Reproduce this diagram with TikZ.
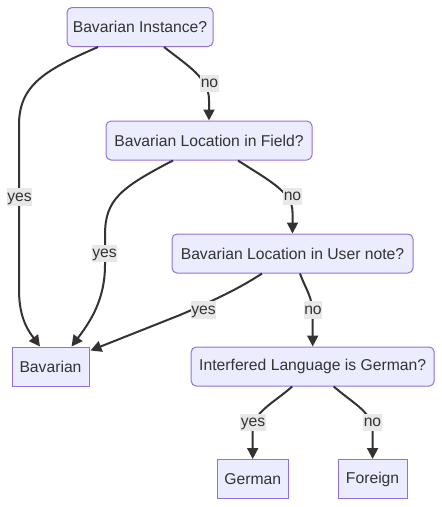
\documentclass[tikz,border=0pt]{standalone}
\usepackage{fontspec}
\setmainfont{Liberation Sans}
\usetikzlibrary{arrows.meta,calc}
\definecolor{nodefill}{HTML}{ECECFF}
\definecolor{nodeline}{HTML}{9370DB}
\definecolor{ink}{HTML}{333333}
\definecolor{lblfill}{HTML}{E8E8E8}
\begin{document}
\begin{tikzpicture}[x=1pt,y=-1pt,
  every node/.style={font=\fontsize{15.7}{19}\selectfont, text=ink},
  decision/.style={draw=nodeline, fill=nodefill, line width=1pt, rounded corners=5pt, minimum height=39pt, inner sep=0pt},
  leaf/.style={draw=nodeline, fill=nodefill, line width=1pt, minimum height=39pt, inner sep=0pt},
  edge/.style={draw=ink, line width=2pt, -{Triangle[length=11pt,width=11pt]}},
  lbl/.style={fill=lblfill, inner sep=0.6pt, text height=12pt, text depth=4pt}
]
\useasboundingbox (0,0) rectangle (442,507);

% nodes
\node[decision, minimum width=146pt] (A) at (140,27) {Bavarian Instance?};
\node[decision, minimum width=206pt] (B) at (209,140.5) {Bavarian Location in Field?};
\node[decision, minimum width=241pt] (C) at (292.5,253.5) {Bavarian Location in User note?};
\node[leaf, minimum width=77pt] (D) at (50.5,366.5) {Bavarian};
\node[decision, minimum width=243pt] (E) at (312.7,366.5) {Interfered Language is German?};
\node[leaf, minimum width=71pt] (F) at (252.7,479) {German};
\node[leaf, minimum width=69pt] (G) at (372.6,479) {Foreign};

% edges
\draw[edge] ($(A.south)+(-42,0)$) .. controls (45,70) and (19,85) .. (19,125) -- (19,290) .. controls (19,320) and (30,333) .. ($(D.north)+(-10.5,0)$);
\draw[edge] ($(A.south)+(24,0)$) .. controls (188,66) and (209,78) .. (209,100) -- (B.north);
\draw[edge] ($(B.south)+(-36,0)$) .. controls (120,188) and (105,200) .. (105,235) -- (105,265) .. controls (105,300) and (90,322) .. ($(D.north)+(21,0)$);
\draw[edge] ($(B.south)+(29,0)$) .. controls (268,180) and (292.5,192) .. (292.5,212) -- (C.north);
\draw[edge] ($(C.south)+(-30.5,0)$) .. controls (240,288) and (215,300) .. (180,315) -- ($(D.north east)+(1,4)$);
\draw[edge] ($(C.south)+(7.5,0)$) .. controls (306,290) and (312.7,297) .. (312.7,315) -- (E.north);
\draw[edge] ($(E.south)+(-20.5,0)$) .. controls (275,402) and (253,412) .. (252.7,430) -- (F.north);
\draw[edge] ($(E.south)+(21,0)$) .. controls (355,405) and (372.6,412) .. (372.6,432) -- (G.north);

% edge labels
\node[lbl] (l1) at (19.5,197) {yes};
\node[lbl] (l2) at (209.5,83.5) {no};
\node[lbl] (l3) at (104.5,253.5) {yes};
\node[lbl] (l4) at (292.5,196.5) {no};
\node[lbl] (l5) at (203.5,310) {yes};
\node[lbl] (l6) at (313,310) {no};
\node[lbl] (l7) at (253,422.5) {yes};
\node[lbl] (l8) at (372.5,422.5) {no};
\end{tikzpicture}
\end{document}
